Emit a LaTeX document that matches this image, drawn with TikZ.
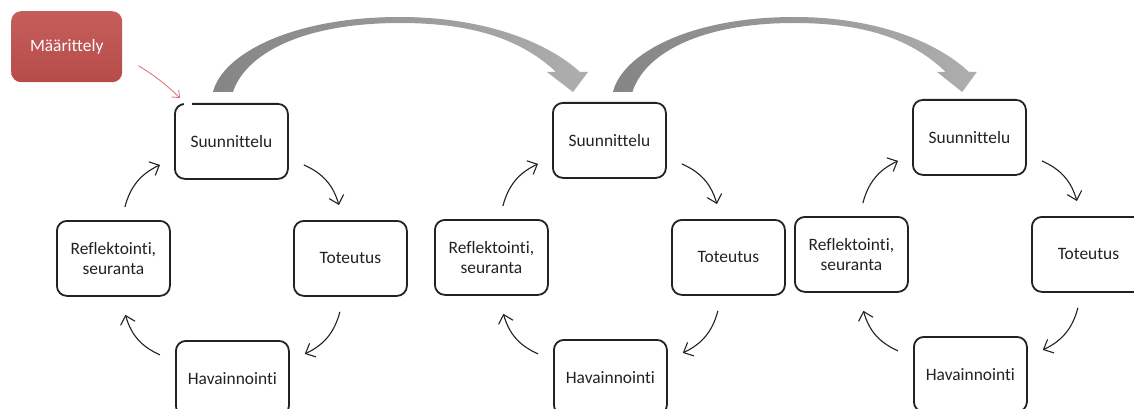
\documentclass[tikz,border=0pt]{standalone}
\usepackage{fontspec}
\setmainfont{Carlito}[Ligatures={NoCommon}]
\usetikzlibrary{arrows.meta,calc}

\definecolor{ink}{HTML}{222222}
\definecolor{defred}{HTML}{C0504D}
\definecolor{redline}{HTML}{DA6E6C}
\definecolor{flowdark}{HTML}{858585}
\definecolor{flowlight}{HTML}{AEAEAE}

\tikzset{
  stage/.style={draw=ink, line width=1.8pt, rounded corners=10pt,
    minimum width=113pt, minimum height=75pt, inner sep=2pt,
    align=center, text=ink, anchor=north west,
    font=\fontsize{17.4}{20.5}\selectfont},
  defbox/.style={top color=defred!92!white, bottom color=defred!95!black,
    rounded corners=10pt,
    minimum width=111pt, minimum height=71pt, inner sep=2pt,
    text=white, anchor=north west,
    font=\fontsize{17.4}{20.5}\selectfont},
  cyc/.style={draw=ink, line width=1.1pt, bend left=25,
    -{Straight Barb[length=8pt,width=15pt]}},
  defarrow/.style={draw=redline, line width=0.8pt, bend left=6,
    -{Straight Barb[length=6pt,width=10pt]}},
  flow/.style={shade, left color=flowdark, right color=flowlight, draw=none}
}

% the big curved arrow, drawn from its left foot at x = 0
\newcommand{\flowarrow}{%
  \path[flow] (0,92) .. controls (9,55) and (77,17) .. (187,17)
    .. controls (267,17) and (332,40) .. (367,72)
    -- (375,72) -- (360,92) -- (334,72) -- (343,72)
    .. controls (307,38) and (257,23) .. (187,23)
    .. controls (87,23) and (32,55) .. (20,92) -- cycle;}

\begin{document}
\begin{tikzpicture}[x=1pt,y=-1pt]
  \useasboundingbox (0,0) rectangle (1134,409);
  \clip (0,0) rectangle (1134,409);
  \fill[white] (0,0) rectangle (1134,409);

  % hand-over arrows between the cycles
  \begin{scope}[shift={(213,0)}]
    \flowarrow
  \end{scope}
  \begin{scope}[shift={(613,0)}, xscale=0.97]
    \flowarrow
  \end{scope}

  % three planning cycles
  \foreach \i/\bx/\by in {1/174/103, 2/552/102, 3/912/99} {
    \node[stage] (S\i) at (\bx,\by) {Suunnittelu};
    \node[stage] (T\i) at (\bx+119,\by+117) {Toteutus};
    \node[stage] (H\i) at (\bx+1,\by+237) {Havainnointi};
    \node[stage] (R\i) at (\bx-118,\by+117) {Reflektointi,\\seuranta};

    \coordinate (st\i a) at ($(S\i.east)+(15,23.5)$);
    \coordinate (st\i b) at ($(T\i.north)+(-11.5,-15)$);
    \coordinate (th\i a) at ($(T\i.south)+(-10.5,15)$);
    \coordinate (th\i b) at ($(H\i.east)+(15,-24.5)$);
    \coordinate (hr\i a) at ($(H\i.west)+(-15,-23.5)$);
    \coordinate (hr\i b) at ($(R\i.south)+(12,18)$);
    \coordinate (rs\i a) at ($(R\i.north)+(11.5,-13)$);
    \coordinate (rs\i b) at ($(S\i.west)+(-14,23.5)$);

    \draw[cyc] (st\i a) to (st\i b);
    \draw[cyc] (th\i a) to (th\i b);
    \draw[cyc] (hr\i a) to (hr\i b);
    \draw[cyc] (rs\i a) to (rs\i b);
  }

  % opening in the first planning box where the definition enters
  \fill[white] (184,99) rectangle (192,107);

  % definition step
  \node[defbox] (def) at (11,11) {Määrittely};
  \coordinate (defa) at ($(def.east)+(16,19)$);
  \coordinate (defb) at ($(S1.north west)+(6,-5)$);
  \draw[defarrow] (defa) to (defb);
\end{tikzpicture}
\end{document}
